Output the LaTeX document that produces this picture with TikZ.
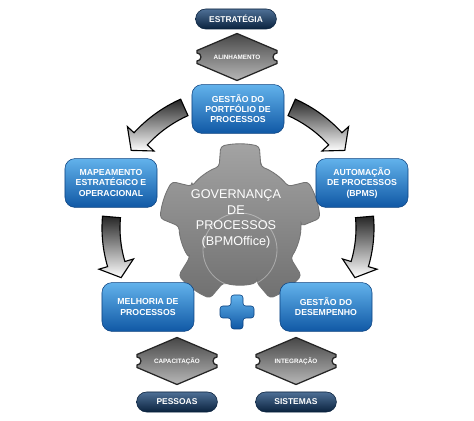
\documentclass[tikz,border=0pt]{standalone}
\usepackage{fontspec}
\setmainfont{Liberation Sans}
\usetikzlibrary{calc,positioning}

\definecolor{boxtop}{RGB}{98,178,235}
\definecolor{boxbot}{RGB}{16,88,165}
\definecolor{boxline}{RGB}{12,66,128}
\definecolor{navytop}{RGB}{78,112,150}
\definecolor{navybot}{RGB}{10,34,62}

\tikzset{
  procbox/.style={rounded corners=0.25cm, minimum width=2.3cm, minimum height=1.22cm,
                  top color=boxtop, bottom color=boxbot, draw=boxline, line width=0.4pt,
                  text=white, align=center, inner sep=1pt,
                  font=\bfseries\fontsize{6.2}{7.2}\selectfont},
  pillbox/.style={rounded corners=0.25cm, minimum width=2.02cm, minimum height=0.5cm,
                  top color=navytop, bottom color=navybot, draw=navybot, inner sep=0pt,
                  text=white, font=\bfseries\fontsize{6}{7}\selectfont},
  hexlabel/.style={text=white, inner sep=0pt, font=\bfseries\fontsize{4.5}{5}\selectfont},
  hexfill/.style={top color=black!72, bottom color=black!28, draw=black!85, line width=0.9pt},
  arcarrow/.style={top color=black!85, bottom color=white, draw=black, line width=0.8pt},
  gearfill/.style={top color=black!36, bottom color=black!56, draw=black!55, line width=0.6pt,
                   rounded corners=2.5pt},
  plusfill/.style={top color=boxtop, bottom color=boxbot, draw=boxline, line width=0.4pt,
                   rounded corners=2pt},
}

% hexagonal sign with notches: name, position, text
\newcommand{\hexsign}[3]{%
  \begin{scope}[shift={#2}]
    \path[hexfill] (0,23.5) -- (40,6.5) -- (40,4) arc[start angle=90,end angle=270,radius=4]
      -- (40,-6.5) -- (0,-23.5) -- (-40,-6.5) -- (-40,-4) arc[start angle=-90,end angle=90,radius=4]
      -- (-40,6.5) -- cycle;
  \end{scope}
  \node[hexlabel] (#1) at #2 {#3};}

% curved arrow round the hub: start angle, neck angle, tip angle, radius
\newcommand{\flowarc}[4]{%
  \path[arcarrow] ($(hub)+(#1:{#4+9})$) arc[start angle=#1,end angle=#2,radius={#4+9}]
    -- ($(hub)+(#2:{#4+18})$) -- ($(hub)+(#3:#4)$) -- ($(hub)+(#2:{#4-18})$)
    -- ($(hub)+(#2:{#4-9})$) arc[start angle=#2,end angle=#1,radius={#4-9}] -- cycle;}

\begin{document}
\begin{tikzpicture}[x=0.025cm, y=0.025cm]
    \useasboundingbox (0,0) rectangle (474,421);
    \coordinate (hub) at (238,193);
    \coordinate (gc) at (240,197);

    % gear -------------------------------------------------------------
    \begin{scope}[shift={(gc)}]
        \path[gearfill] (70:61) \foreach \a in {90,162,234,306,378} {
            -- ({\a-20}:61) -- ({\a-14}:80) arc[start angle=\a-14,end angle=\a+14,radius=80]
            -- ({\a+20}:61) arc[start angle=\a+20,end angle=\a+52,radius=61]} -- cycle;
        \draw[white, opacity=0.35, line width=0.6pt] (0,-26) circle[radius=37];
    \end{scope}
    \node[text=white, align=center, font=\fontsize{9}{11}\selectfont] (gov) at (236,202)
        {GOVERNANÇA\\DE\\PROCESSOS\\(BPMOffice)};

    % arrows -----------------------------------------------------------
    \flowarc{114}{137.5}{144}{132}
    \flowarc{66}{42.5}{36}{132}
    \flowarc{175}{196.5}{203}{127}
    \flowarc{5}{-16.5}{-23}{127}

    % top ----------------------------------------------------------------
    \node[pillbox] (estr) at (236,402) {ESTRATÉGIA};
    \hexsign{alin}{(237,364)}{ALINHAMENTO}
    \node[procbox] (port) at (238,312) {GESTÃO DO\\PORTFÓLIO DE\\PROCESSOS};

    % sides ------------------------------------------------------------
    \node[procbox] (mapa) at (111,238) {MAPEAMENTO\\ESTRATÉGICO E\\OPERACIONAL};
    \node[procbox] (auto) at (362,238) {AUTOMAÇÃO\\DE PROCESSOS\\(BPMS)};
    \node[procbox] (melh) at (148,114) {MELHORIA DE\\PROCESSOS};
    \node[procbox] (dese) at (326,114) {GESTÃO DO\\DESEMPENHO};

    % plus
    \begin{scope}[shift={(237,109)}]
        \path[plusfill] (-6,17) -- (6,17) -- (6,6) -- (17,6) -- (17,-6) -- (6,-6)
            -- (6,-17) -- (-6,-17) -- (-6,-6) -- (-17,-6) -- (-17,6) -- (-6,6) -- cycle;
    \end{scope}

    % bottom -----------------------------------------------------------
    \hexsign{capa}{(177,60)}{CAPACITAÇÃO}
    \hexsign{inte}{(296,60)}{INTEGRAÇÃO}
    \node[pillbox] (pess) at (177,19) {PESSOAS};
    \node[pillbox] (sist) at (296,19) {SISTEMAS};
\end{tikzpicture}
\end{document}
